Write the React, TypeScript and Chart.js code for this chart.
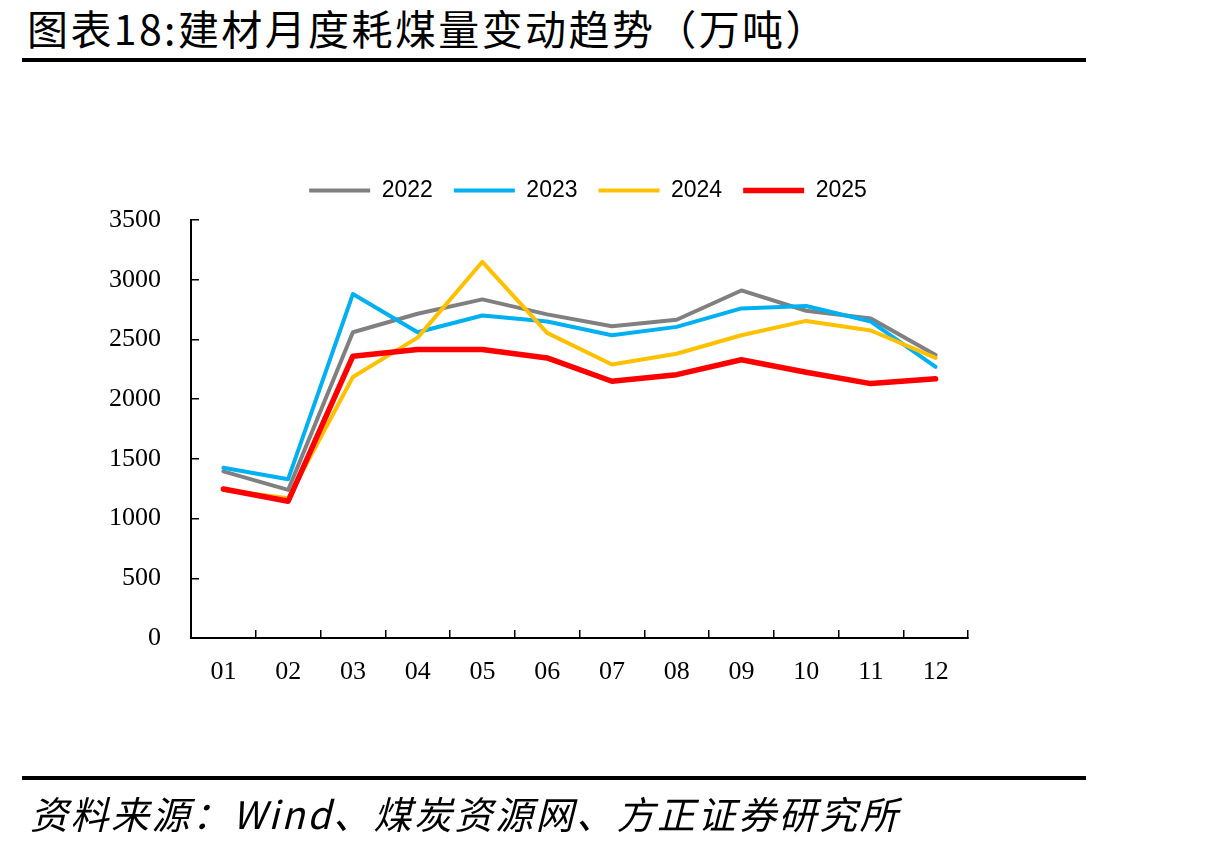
import React, { useEffect, useRef } from 'react';
import { Chart, registerables } from 'chart.js';

Chart.register(...registerables);

const categories = ['01', '02', '03', '04', '05', '06', '07', '08', '09', '10', '11', '12'];
const series2022 = [1395, 1240, 2560, 2715, 2835, 2710, 2610, 2665, 2910, 2740, 2675, 2370];
const series2023 = [1425, 1330, 2880, 2560, 2700, 2650, 2535, 2605, 2760, 2780, 2650, 2270];
const series2024 = [1240, 1170, 2185, 2515, 3150, 2555, 2290, 2380, 2535, 2655, 2575, 2345];
const series2025 = [1248, 1145, 2360, 2415, 2415, 2345, 2150, 2205, 2330, 2225, 2130, 2170];
const seriesNames = ['2022', '2023', '2024', '2025'];
const seriesColors = ['#808080', '#00B0F0', '#FFC000', '#FF0000'];
const seriesWidths = [4, 4, 4, 5.5];
const seriesOrder = [3, 2, 1, 0];
const yMin = 0;
const yMax = 3500;
const yStep = 500;

const titleText = '图表18:建材月度耗煤量变动趋势（万吨）';
const sourceText = '资料来源：Wind、煤炭资源网、方正证券研究所';

const LEGEND_EXTRA = 8;

const legendGapPlugin = {
  id: 'legendGap',
  beforeLayout(chart: any) {
    const lg = chart.legend;
    if (lg && !lg._gapPatched) {
      const orig = lg.fit;
      lg.fit = function () {
        orig.call(this);
        this.height += LEGEND_EXTRA;
      };
      lg._gapPatched = true;
    }
  },
};

export default function App() {
  const canvasRef = useRef<HTMLCanvasElement | null>(null);

  useEffect(() => {
    if (!canvasRef.current) return;
    const allSeries = [series2022, series2023, series2024, series2025];
    const chart = new Chart(canvasRef.current, {
      type: 'line',
      data: {
        labels: categories,
        datasets: allSeries.map((data, i) => ({
          label: seriesNames[i],
          data,
          borderColor: seriesColors[i],
          backgroundColor: seriesColors[i],
          borderWidth: seriesWidths[i],
          pointRadius: 0,
          pointHoverRadius: 0,
          tension: 0,
          fill: false,
          borderCapStyle: 'round',
          borderJoinStyle: 'round',
          order: seriesOrder[i],
          yAxisID: 'y',
        })),
      },
      plugins: [legendGapPlugin],
      options: {
        animation: false,
        responsive: false,
        devicePixelRatio: 1,
        layout: { padding: { top: 158, left: 0, right: 47, bottom: 150 } },
        plugins: {
          tooltip: { enabled: false },
          legend: {
            display: true,
            position: 'top',
            labels: {
              usePointStyle: true,
              pointStyle: 'line',
              pointStyleWidth: 61,
              padding: 21,
              color: '#000',
              font: { family: '"Liberation Sans", Arial, sans-serif', size: 23 },
              sort: (a: any, b: any) => a.datasetIndex - b.datasetIndex,
            },
          },
        },
        scales: {
          x: {
            type: 'category',
            offset: true,
            grid: {
              display: true,
              offset: true,
              drawOnChartArea: false,
              drawTicks: true,
              tickLength: -8,
              color: '#000',
              lineWidth: 1.5,
            },
            border: { display: true, color: '#000', width: 2 },
            ticks: {
              color: '#000',
              padding: 27,
              maxRotation: 0,
              autoSkip: false,
              font: { family: '"Liberation Serif", "Times New Roman", serif', size: 26 },
            },
            afterFit(scale: any) {
              scale.height = 60;
            },
          },
          y: {
            position: 'left',
            min: yMin,
            max: yMax,
            ticks: {
              stepSize: yStep,
              color: '#000',
              padding: 38,
              font: { family: '"Liberation Serif", "Times New Roman", serif', size: 26 },
              callback: (v: any) => String(v),
            },
            grid: {
              display: true,
              drawOnChartArea: false,
              drawTicks: true,
              tickLength: -8,
              color: '#000',
              lineWidth: 1.5,
            },
            border: { display: true, color: '#000', width: 2 },
            afterFit(scale: any) {
              scale.width = 191;
            },
          },
          y2: {
            position: 'right',
            display: true,
            grid: { display: false, drawTicks: false },
            border: { display: false },
            ticks: { display: false },
            afterFit(scale: any) {
              scale.width = 208;
            },
          },
        },
      },
    } as any);
    return () => chart.destroy();
  }, []);

  return (
    <div
      style={{
        position: 'fixed',
        left: 0,
        top: 0,
        width: 1223,
        height: 848,
        background: '#fff',
        overflow: 'hidden',
      }}
    >
      <div
        style={{
          position: 'absolute',
          left: 27,
          top: 7,
          fontFamily: '"Noto Sans CJK SC", sans-serif',
          fontSize: 41,
          lineHeight: '41px',
          letterSpacing: '2.4px',
          color: '#000',
          whiteSpace: 'nowrap',
        }}
      >
        {titleText}
      </div>
      <div style={{ position: 'absolute', left: 22, top: 58, width: 1064, height: 4, background: '#000' }} />
      <canvas
        ref={canvasRef}
        width={1223}
        height={848}
        style={{ position: 'absolute', left: 0, top: 0, width: 1223, height: 848 }}
      />
      <div style={{ position: 'absolute', left: 22, top: 776, width: 1064, height: 4, background: '#000' }} />
      <div
        style={{
          position: 'absolute',
          left: 30,
          top: 793,
          fontFamily: '"Noto Sans CJK SC", sans-serif',
          fontStyle: 'italic',
          fontSize: 38,
          lineHeight: '40px',
          letterSpacing: '2.5px',
          color: '#000',
          whiteSpace: 'nowrap',
        }}
      >
        {sourceText}
      </div>
    </div>
  );
}
